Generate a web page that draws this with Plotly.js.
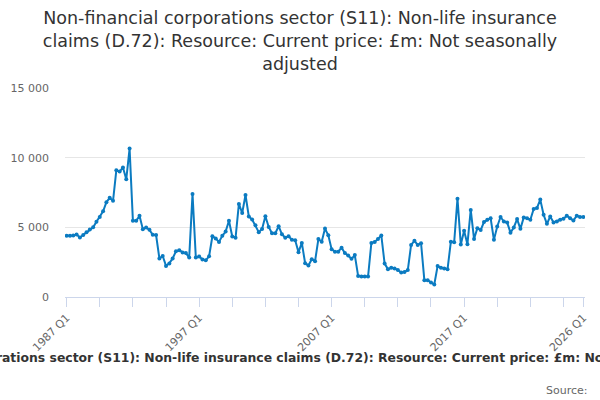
<!DOCTYPE html>
<html>
<head>
<meta charset="utf-8">
<script src="https://cdn.plot.ly/plotly-3.0.1.min.js"></script>
<style>
  html, body { margin: 0; padding: 0; background: #fff; }
  #chart { width: 600px; height: 400px; }
</style>
</head>
<body>
<div id="chart"></div>
<script>
// quarters 1987 Q1 .. 2026 Q1
var startYear = 1987;
var quarterCount = 157;
var quarters = [];
for (var n = 0; n < quarterCount; n++) {
  quarters.push((startYear + Math.floor(n / 4)) + ' Q' + (n % 4 + 1));
}

// £m
var claims = [
  4400, 4400, 4420, 4480, 4270, 4450, 4650, 4850, 5000, 5400,
  5750, 6150, 6800, 7120, 6900, 9100, 9000, 9300, 8450, 10650,
  5470, 5470, 5830, 4870, 4990, 4820, 4460, 4450, 2770, 2940,
  2230, 2410, 2770, 3280, 3360, 3200, 3150, 2830, 7400, 2830,
  2900, 2700, 2630, 2920, 4360, 4190, 3950, 4390, 4700, 5470,
  4340, 4260, 6680, 6030, 7320, 5780, 5560, 5150, 4650, 4880,
  5800, 5030, 4580, 4580, 5080, 4500, 4250, 4360, 4100, 4070,
  3220, 3880, 2430, 2260, 2710, 2570, 4160, 3970, 4910, 4430,
  3430, 3250, 3250, 3540, 3150, 2980, 2740, 3010, 1510, 1470,
  1470, 1470, 3880, 3950, 4170, 4420, 2400, 2000, 2100, 2050,
  1930, 1760, 1800, 1930, 3740, 4030, 3740, 3860, 1210, 1210,
  1040, 900, 2220, 2100, 2050, 2000, 3970, 3930, 7060, 3760,
  4750, 3790, 6250, 4170, 4940, 4800, 5380, 5540, 5660, 4100,
  5060, 5740, 5420, 5350, 4620, 4990, 5590, 4890, 5710, 5660,
  5540, 6310, 6390, 6990, 5900, 5250, 5780, 5350, 5420, 5540,
  5620, 5830, 5660, 5490, 5830, 5740, 5740
];

var yTicks = [0, 5000, 10000, 15000];
var labelledTicks = ['1987 Q1', '1997 Q1', '2007 Q1', '2017 Q1', '2026 Q1'];

// a tick every 10 quarters plus the last one, labels only on some
var tickVals = [];
var tickText = [];
for (var k = 0; k < quarters.length; k += 10) {
  tickVals.push(quarters[k]);
}
tickVals.push(quarters[quarters.length - 1]);
tickVals.forEach(function (q) {
  tickText.push(labelledTicks.indexOf(q) >= 0 ? q : '');
});

var seriesName = 'Non-financial corporations sector (S11): Non-life insurance claims (D.72): Resource: Current price: £m: Not seasonally adjusted';

var trace = {
  x: quarters,
  y: claims,
  type: 'scatter',
  mode: 'lines+markers',
  line: { color: '#0b7bc1', width: 2 },
  marker: { color: '#0b7bc1', size: 4 },
  hoverinfo: 'x+y'
};

var layout = {
  width: 600,
  height: 400,
  margin: { l: 65, r: 15, t: 88, b: 103 },
  paper_bgcolor: '#fff',
  plot_bgcolor: '#fff',
  separators: '. ',
  showlegend: false,
  font: { family: 'DejaVu Sans, sans-serif', color: '#333' },
  title: {
    text: 'Non-financial corporations sector (S11): Non-life insurance<br>claims (D.72): Resource: Current price: £m: Not seasonally<br>adjusted',
    font: { size: 17.5, color: '#333', family: 'DejaVu Sans, sans-serif' },
    x: 0.5,
    xanchor: 'center',
    y: 0.94,
    yanchor: 'top',
    yref: 'container'
  },
  xaxis: {
    type: 'category',
    range: [-0.5, quarters.length - 0.5],
    tickmode: 'array',
    tickvals: tickVals,
    ticktext: tickText,
    tickangle: -45,
    ticks: 'outside',
    ticklen: 9,
    tickcolor: '#ccd6eb',
    showline: true,
    linecolor: '#ccd6eb',
    linewidth: 1,
    showgrid: false,
    zeroline: false,
    tickfont: { size: 11, color: '#666' }
  },
  yaxis: {
    range: [0, 15000],
    tickmode: 'array',
    tickvals: yTicks,
    tickformat: ',d',
    showgrid: true,
    gridcolor: '#e6e6e6',
    zeroline: false,
    showline: false,
    ticks: '',
    tickfont: { size: 11, color: '#666' },
    ticklabelstandoff: 15
  },
  annotations: [{
    // series name under the axis, wider than the picture as in the original
    text: '<b>' + seriesName + '</b>',
    xref: 'paper',
    yref: 'paper',
    x: 0.465,
    y: -0.29,
    xanchor: 'center',
    yanchor: 'middle',
    showarrow: false,
    font: { size: 12.4, color: '#333' }
  }, {
    text: 'Source:',
    xref: 'paper',
    yref: 'paper',
    x: 1.01,
    y: -0.447,
    xanchor: 'right',
    yanchor: 'middle',
    showarrow: false,
    font: { size: 11, color: '#666' }
  }]
};

Plotly.newPlot('chart', [trace], layout, { displayModeBar: false, staticPlot: true });
</script>
</body>
</html>
